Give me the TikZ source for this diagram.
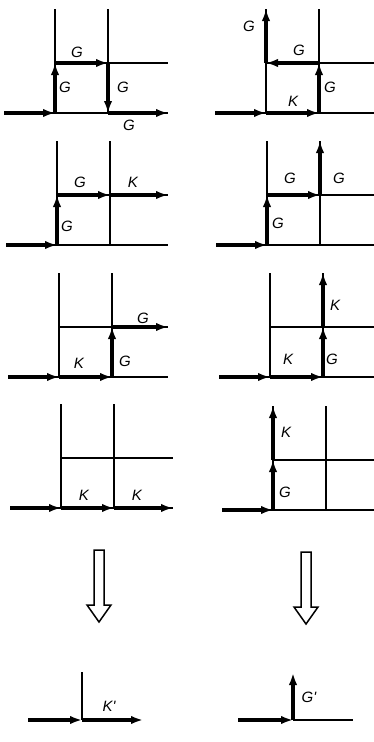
\documentclass[tikz,border=0pt]{standalone}
\usepackage{fontspec}
\setmainfont{Liberation Sans}
\usetikzlibrary{arrows.meta,calc}

\tikzset{
  gridline/.style={line width=1.3pt},
  flux/.style={line width=3.4pt,-{Latex[length=12pt,width=8.5pt]}},
  lbl/.style={font=\fontsize{15}{15}\selectfont\itshape,inner sep=0pt},
  hollow/.style={line width=1.5pt,line join=miter}
}

% lattice cell: name, x and y of the lower left corner, right end
\newcommand{\cellgrid}[4]{%
  \coordinate (#1o) at (#2,#3);
  \coordinate (#1r) at (#2+53,#3);
  \coordinate (#1u) at (#2,#3-50);
  \coordinate (#1ur) at (#2+53,#3-50);
  \coordinate (#1t) at (#2,#3-104);
  \coordinate (#1tr) at (#2+53,#3-104);
  \coordinate (#1w) at (#2-51,#3);
  \coordinate (#1e) at (#4,#3);
  \coordinate (#1he) at (#4,#3-50);
  \draw[gridline] (#1w) -- (#1e) (#1o) -- (#1t) (#1r) -- (#1tr) (#1u) -- (#1he);
}

\begin{document}
\begin{tikzpicture}[x=1pt,y=-1pt]
  \useasboundingbox (0,0) rectangle (374,742);

  % the eight lattice cells
  \cellgrid{a}{55}{113}{168}
  \cellgrid{b}{266}{113}{376}
  \cellgrid{c}{57}{245}{168}
  \cellgrid{d}{267}{245}{376}
  \cellgrid{e}{59}{377}{168}
  \cellgrid{f}{270}{377}{376}
  \cellgrid{g}{61}{508}{173}
  \cellgrid{h}{273}{510}{376}

  % paths
  \draw[flux] (aw) -- (ao);
  \draw[flux] (ao) -- (au);
  \draw[flux] (au) -- (aur);
  \draw[flux] (aur) -- (ar);
  \draw[flux] (ar) -- (ae);

  \draw[flux] (bw) -- (bo);
  \draw[flux] (bo) -- (br);
  \draw[flux] (br) -- (bur);
  \draw[flux] (bur) -- (bu);
  \draw[flux] (bu) -- (bt);

  \draw[flux] (cw) -- (co);
  \draw[flux] (co) -- (cu);
  \draw[flux] (cu) -- (cur);
  \draw[flux] (cur) -- (che);

  \draw[flux] (dw) -- (do);
  \draw[flux] (do) -- (du);
  \draw[flux] (du) -- (dur);
  \draw[flux] (dur) -- (dtr);

  \draw[flux] (ew) -- (eo);
  \draw[flux] (eo) -- (er);
  \draw[flux] (er) -- (eur);
  \draw[flux] (eur) -- (ehe);

  \draw[flux] (fw) -- (fo);
  \draw[flux] (fo) -- (fr);
  \draw[flux] (fr) -- (fur);
  \draw[flux] (fur) -- (ftr);

  \draw[flux] (gw) -- (go);
  \draw[flux] (go) -- (gr);
  \draw[flux] (gr) -- (ge);

  \draw[flux] (hw) -- (ho);
  \draw[flux] (ho) -- (hu);
  \draw[flux] (hu) -- (ht);

  % labels
  \foreach \n/\x/\y/\t in {
    a1/77/52/G, a2/65/87/G, a3/123/87/G, a4/129/125/G,
    b1/249/26/G, b2/299/50/G, b3/330/87/G, b4/293/101/K,
    c1/80/182/G, c2/133/182/K, c3/67/226/G,
    d1/290/178/G, d2/339/178/G, d3/278/223/G,
    e1/143/318/G, e2/79/363/K, e3/125/361/G,
    f1/335/305/K, f2/288/359/K, f3/332/359/G,
    g1/84/495/K, g2/137/495/K,
    h1/286/432/K, h2/285/492/G}{%
    \node[lbl] (l\n) at (\x,\y) {\t};
  }

  % hollow arrows
  \foreach \n/\cx/\cy in {dl/99/550, dr/306/552}{%
    \coordinate (\n) at (\cx,\cy);
    \draw[hollow] ($(\n)+(-5,0)$) -- ($(\n)+(5,0)$) -- ($(\n)+(5,55)$)
      -- ($(\n)+(12,55)$) -- ($(\n)+(0,72)$) -- ($(\n)+(-12,55)$)
      -- ($(\n)+(-5,55)$) -- cycle;
  }

  % results
  \coordinate (ko) at (82,720);
  \coordinate (kt) at (82,672);
  \coordinate (kw) at (28,720);
  \coordinate (ke) at (143,720);
  \draw[gridline] (ko) -- (kt);
  \draw[flux] (kw) -- (ko);
  \draw[flux] (ko) -- (ke);
  \node[lbl] (lk) at (109,706) {K\textquotesingle};

  \coordinate (go2) at (293,720);
  \coordinate (gt2) at (293,673);
  \coordinate (gw2) at (238,720);
  \coordinate (ge2) at (353,720);
  \draw[gridline] (go2) -- (ge2);
  \draw[flux] (gw2) -- (go2);
  \draw[flux] (go2) -- (gt2);
  \node[lbl] (lg) at (309,697) {G\textquotesingle};
\end{tikzpicture}
\end{document}
